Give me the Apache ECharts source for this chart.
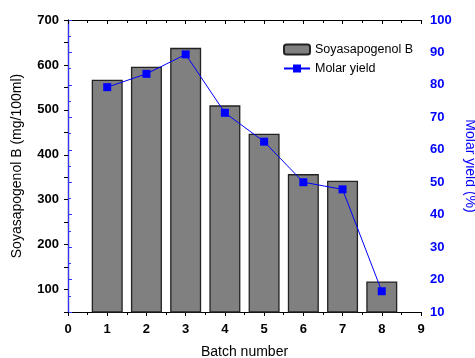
<!DOCTYPE html>
<html>
<head>
<meta charset="utf-8">
<script src="https://cdn.jsdelivr.net/npm/echarts@6/dist/echarts.min.js"></script>
<style>
  html, body { margin: 0; padding: 0; background: #fff; }
  #chart { width: 475px; height: 358px; }
</style>
</head>
<body>
<div id="chart"></div>
<script>
const batches = [1, 2, 3, 4, 5, 6, 7, 8];
const soyasapogenol = [567, 596, 638, 510, 447, 357, 342, 118];
const molarYield = [79.3, 83.4, 89.4, 71.4, 62.5, 50.0, 47.8, 16.4];

const chart = echarts.init(document.getElementById("chart"));
const labelFont = { fontFamily: "Liberation Sans", fontWeight: "bold", fontSize: 13 };

const option = {
  animation: false,
  grid: { left: 68, right: 54, top: 20, bottom: 46, outerBoundsMode: "none", containLabel: false },
  legend: {
    orient: "vertical",
    left: 278,
    top: 38,
    itemWidth: 26,
    itemHeight: 10,
    itemGap: 6,
    textStyle: { fontFamily: "Liberation Sans", fontSize: 12.5, color: "#000" },
    data: ["Soyasapogenol B", "Molar yield"],
  },
  xAxis: [
    {
      type: "value",
      min: 0,
      max: 9,
      interval: 1,
      name: "Batch number",
      nameLocation: "middle",
      nameGap: 33,
      nameTextStyle: { fontFamily: "Liberation Sans", fontSize: 14, color: "#000" },
      axisLine: { lineStyle: { color: "#000", width: 1.2 } },
      axisTick: { length: 4, lineStyle: { color: "#000" } },
      minorTick: { show: true, splitNumber: 2, length: 3, lineStyle: { color: "#000" } },
      axisLabel: { ...labelFont, color: "#000", margin: 11 },
      splitLine: { show: false },
    },
    {
      type: "value",
      position: "top",
      min: 0,
      max: 9,
      interval: 1,
      axisLine: { lineStyle: { color: "#000", width: 1.2 } },
      axisTick: { inside: true, length: 4, lineStyle: { color: "#000" } },
      minorTick: { show: true, splitNumber: 2, length: 3, lineStyle: { color: "#000" } },
      axisLabel: { show: false },
      splitLine: { show: false },
    },
  ],
  yAxis: [
    {
      type: "value",
      min: 50,
      max: 700,
      interval: 50,
      name: "Soyasapogenol B (mg/100ml)",
      nameLocation: "middle",
      nameGap: 44,
      nameTextStyle: { fontFamily: "Liberation Sans", fontSize: 14, color: "#000" },
      axisLine: { show: true, lineStyle: { color: "#000", width: 1.2 } },
      axisTick: { length: 4, lineStyle: { color: "#000" } },
      axisLabel: {
        ...labelFont,
        color: "#000",
        margin: 9,
        formatter: (v) => (v % 100 === 0 ? String(v) : ""),
      },
      splitLine: { show: false },
    },
    {
      type: "value",
      position: "right",
      min: 10,
      max: 100,
      interval: 10,
      name: "Molar yield (%)",
      nameLocation: "middle",
      nameGap: 38,
      nameRotate: -90,
      nameTextStyle: { fontFamily: "Liberation Sans", fontSize: 14, color: "#0000ff" },
      axisLine: { show: true, lineStyle: { color: "#3333ff", width: 1.2 } },
      axisTick: { length: 4, lineStyle: { color: "#3333ff" } },
      minorTick: { show: true, splitNumber: 2, length: 3, lineStyle: { color: "#3333ff" } },
      axisLabel: { ...labelFont, color: "#0000ff", margin: 9 },
      splitLine: { show: false },
    },
  ],
  series: [
    {
      name: "Soyasapogenol B",
      type: "bar",
      xAxisIndex: 0,
      yAxisIndex: 0,
      barWidth: 31,
      data: batches.map((b, i) => [b, soyasapogenol[i]]),
      itemStyle: { color: "#808080", borderColor: "#222", borderWidth: 1.3 },
    },
    {
      name: "Molar yield",
      type: "line",
      xAxisIndex: 0,
      yAxisIndex: 1,
      data: batches.map((b, i) => [b, molarYield[i]]),
      symbol: "rect",
      symbolSize: 8,
      itemStyle: { color: "#0000ff" },
      lineStyle: { color: "#0000ff", width: 1 },
    },
  ],
};

chart.setOption(option);
</script>
</body>
</html>
